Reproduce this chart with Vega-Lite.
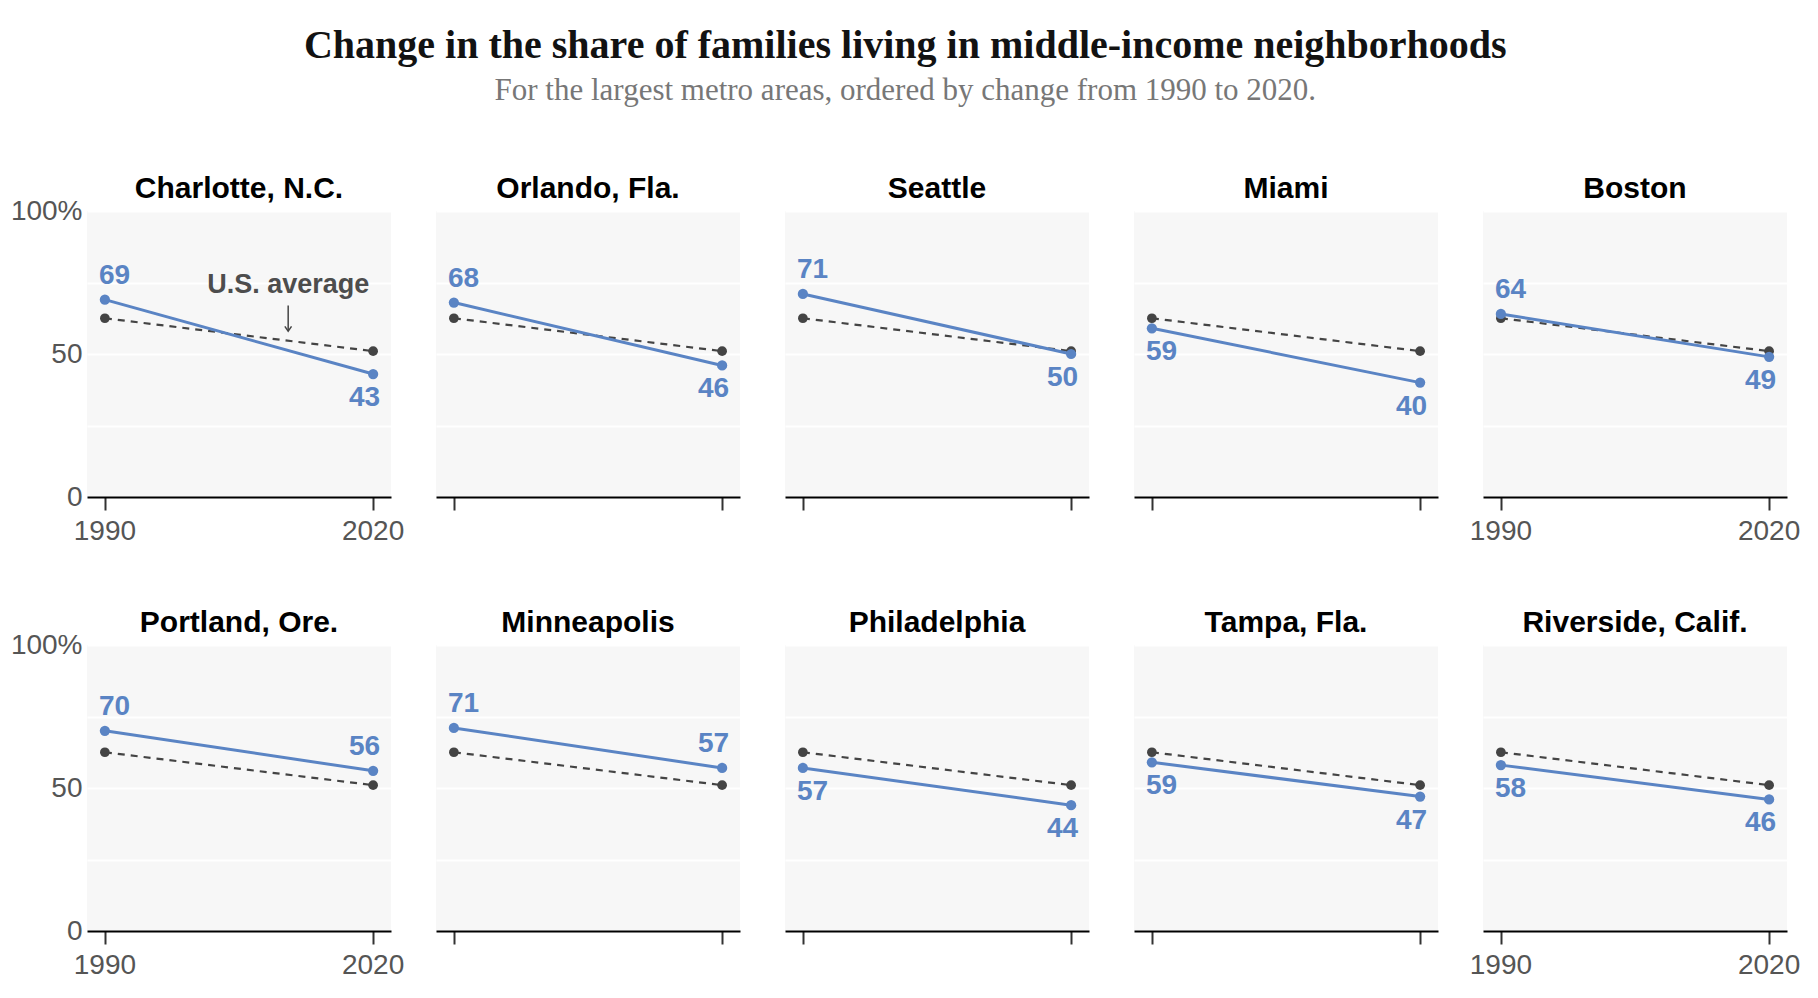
{
  "$schema": "https://vega.github.io/schema/vega-lite/v6.json",
  "padding": {"left": 10, "top": 26, "right": 5, "bottom": 5},
  "bounds": "flush",
  "title": {
    "text": "Change in the share of families living in middle-income neighborhoods",
    "subtitle": "For the largest metro areas, ordered by change from 1990 to 2020.",
    "font": "Liberation Serif",
    "fontSize": 40,
    "fontWeight": "bold",
    "color": "#121212",
    "subtitleFont": "Liberation Serif",
    "subtitleFontSize": 31,
    "subtitleColor": "#777777",
    "subtitlePadding": 10,
    "anchor": "middle",
    "offset": 68
  },
  "data": {
    "values": [
      {"city": "Charlotte, N.C.", "year": 1990, "value": 69, "us": 62.5},
      {"city": "Charlotte, N.C.", "year": 2020, "value": 43, "us": 51},
      {"city": "Orlando, Fla.", "year": 1990, "value": 68, "us": 62.5},
      {"city": "Orlando, Fla.", "year": 2020, "value": 46, "us": 51},
      {"city": "Seattle", "year": 1990, "value": 71, "us": 62.5},
      {"city": "Seattle", "year": 2020, "value": 50, "us": 51},
      {"city": "Miami", "year": 1990, "value": 59, "us": 62.5},
      {"city": "Miami", "year": 2020, "value": 40, "us": 51},
      {"city": "Boston", "year": 1990, "value": 64, "us": 62.5},
      {"city": "Boston", "year": 2020, "value": 49, "us": 51},
      {"city": "Portland, Ore.", "year": 1990, "value": 70, "us": 62.5},
      {"city": "Portland, Ore.", "year": 2020, "value": 56, "us": 51},
      {"city": "Minneapolis", "year": 1990, "value": 71, "us": 62.5},
      {"city": "Minneapolis", "year": 2020, "value": 57, "us": 51},
      {"city": "Philadelphia", "year": 1990, "value": 57, "us": 62.5},
      {"city": "Philadelphia", "year": 2020, "value": 44, "us": 51},
      {"city": "Tampa, Fla.", "year": 1990, "value": 59, "us": 62.5},
      {"city": "Tampa, Fla.", "year": 2020, "value": 47, "us": 51},
      {"city": "Riverside, Calif.", "year": 1990, "value": 58, "us": 62.5},
      {"city": "Riverside, Calif.", "year": 2020, "value": 46, "us": 51}
    ]
  },
  "facet": {
    "field": "city",
    "type": "nominal",
    "sort": ["Charlotte, N.C.", "Orlando, Fla.", "Seattle", "Miami", "Boston", "Portland, Ore.", "Minneapolis", "Philadelphia", "Tampa, Fla.", "Riverside, Calif."],
    "header": {
      "title": null,
      "labelFont": "Liberation Sans",
      "labelFontSize": 30,
      "labelFontWeight": "bold",
      "labelColor": "#000000",
      "labelPadding": 7
    }
  },
  "columns": 5,
  "spacing": {"column": 45, "row": 148},
  "resolve": {"axis": {"x": "independent"}},
  "spec": {
    "width": 304,
    "height": 286,
    "encoding": {
      "x": {
        "field": "year",
        "type": "quantitative",
        "scale": {"domain": [1988, 2022], "nice": false, "zero": false},
        "axis": {
          "title": null,
          "values": [1990, 2020],
          "labels": false,
          "grid": false,
          "domain": true,
          "domainColor": "#000000",
          "domainWidth": 2,
          "ticks": true,
          "tickColor": "#333333",
          "tickWidth": 2,
          "tickSize": 13
        }
      }
    },
    "layer": [
      {
        "mark": {"type": "line", "color": "#444444", "strokeWidth": 2.2, "strokeDash": [7, 6]},
        "encoding": {
          "y": {
            "field": "us",
            "type": "quantitative",
            "scale": {"domain": [0, 100], "nice": false},
            "axis": {
              "title": null,
              "values": [0, 25, 50, 75, 100],
              "labelExpr": "datum.value == 100 ? '100%' : (datum.value == 50 ? '50' : (datum.value == 0 ? '0' : ''))",
              "grid": true,
              "gridColor": "#ffffff",
              "gridWidth": 2,
              "ticks": false,
              "domain": false,
              "labelFont": "Liberation Sans",
              "labelFontSize": 28,
              "labelColor": "#555555",
              "labelPadding": 5
            }
          }
        }
      },
      {
        "mark": {"type": "point", "filled": true, "color": "#444444", "size": 95, "opacity": 1},
        "encoding": {"y": {"field": "us", "type": "quantitative"}}
      },
      {
        "mark": {"type": "line", "color": "#5a84c4", "strokeWidth": 3},
        "encoding": {"y": {"field": "value", "type": "quantitative"}}
      },
      {
        "mark": {"type": "point", "filled": true, "color": "#5a84c4", "size": 105, "opacity": 1},
        "encoding": {"y": {"field": "value", "type": "quantitative"}}
      },
      {
        "transform": [{"filter": "datum.year == 1990 && datum.value >= datum.us"}],
        "mark": {"type": "text", "align": "left", "baseline": "middle", "dx": -6, "dy": -24, "fontSize": 28, "fontWeight": "bold", "color": "#5a84c4", "font": "Liberation Sans"},
        "encoding": {"y": {"field": "value", "type": "quantitative"}, "text": {"field": "value", "type": "quantitative"}}
      },
      {
        "transform": [{"filter": "datum.year == 1990 && datum.value < datum.us"}],
        "mark": {"type": "text", "align": "left", "baseline": "middle", "dx": -6, "dy": 24, "fontSize": 28, "fontWeight": "bold", "color": "#5a84c4", "font": "Liberation Sans"},
        "encoding": {"y": {"field": "value", "type": "quantitative"}, "text": {"field": "value", "type": "quantitative"}}
      },
      {
        "transform": [{"filter": "datum.year == 2020 && datum.value >= datum.us"}],
        "mark": {"type": "text", "align": "right", "baseline": "middle", "dx": 7, "dy": -24, "fontSize": 28, "fontWeight": "bold", "color": "#5a84c4", "font": "Liberation Sans"},
        "encoding": {"y": {"field": "value", "type": "quantitative"}, "text": {"field": "value", "type": "quantitative"}}
      },
      {
        "transform": [{"filter": "datum.year == 2020 && datum.value < datum.us"}],
        "mark": {"type": "text", "align": "right", "baseline": "middle", "dx": 7, "dy": 24, "fontSize": 28, "fontWeight": "bold", "color": "#5a84c4", "font": "Liberation Sans"},
        "encoding": {"y": {"field": "value", "type": "quantitative"}, "text": {"field": "value", "type": "quantitative"}}
      },
      {
        "transform": [{"filter": "indexof(['Charlotte, N.C.', 'Boston', 'Portland, Ore.', 'Riverside, Calif.'], datum.city) >= 0"}],
        "mark": {"type": "text", "align": "center", "baseline": "middle", "dy": 35, "fontSize": 28, "color": "#555555", "font": "Liberation Sans"},
        "encoding": {"y": {"datum": 0}, "text": {"field": "year", "type": "nominal"}}
      },
      {
        "transform": [{"filter": "datum.city == 'Charlotte, N.C.' && datum.year == 1990"}],
        "mark": {"type": "text", "align": "center", "baseline": "middle", "fontSize": 27, "fontWeight": "bold", "color": "#4d4d4d", "font": "Liberation Sans"},
        "encoding": {"x": {"datum": 2010.5}, "y": {"datum": 74}, "text": {"value": "U.S. average"}}
      },
      {
        "transform": [{"filter": "datum.city == 'Charlotte, N.C.' && datum.year == 1990"}],
        "mark": {"type": "rule", "color": "#444444", "strokeWidth": 1.5},
        "encoding": {"x": {"datum": 2010.5}, "y": {"datum": 67}, "y2": {"datum": 58}}
      },
      {
        "transform": [{"filter": "datum.city == 'Charlotte, N.C.' && datum.year == 1990"}],
        "mark": {"type": "point", "shape": "M-1,-1.4L0,0L1,-1.4", "filled": false, "color": "#444444", "strokeWidth": 1.5, "size": 45, "opacity": 1},
        "encoding": {"x": {"datum": 2010.5}, "y": {"datum": 58}}
      }
    ]
  },
  "config": {
    "view": {"fill": "#f7f7f7", "stroke": null},
    "font": "Liberation Sans"
  }
}
